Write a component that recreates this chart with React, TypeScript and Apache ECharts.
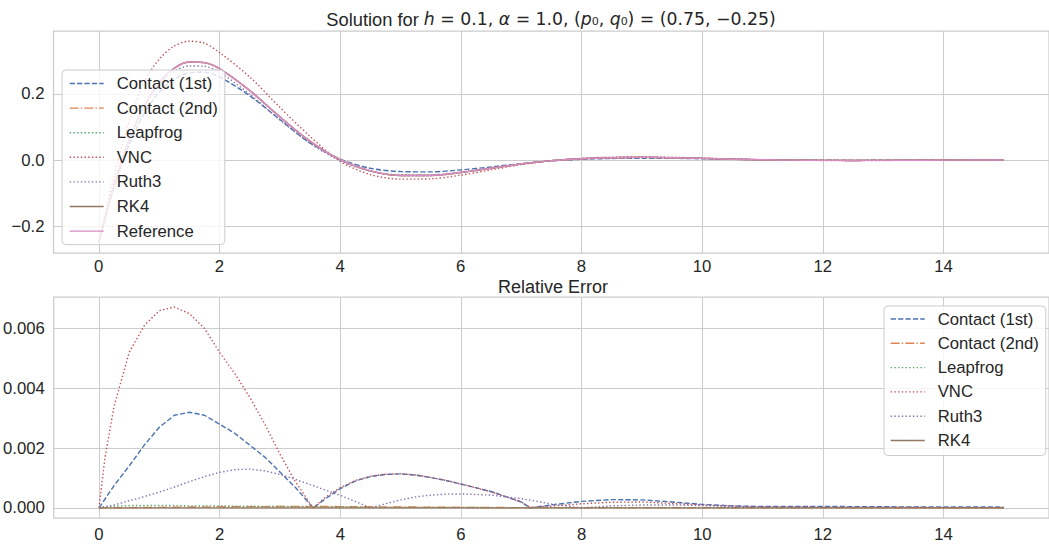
import React, { useEffect, useRef } from "react";
import * as echarts from "echarts";

// ---------- top panel: solution q(t) ----------
const tTop = [0, 0.25, 0.5, 0.75, 1, 1.25, 1.5, 1.75, 2, 2.5, 3, 3.5, 4, 4.5, 5, 5.5, 6, 6.5, 7, 7.5, 8, 8.5, 9, 9.5, 10, 10.5, 11, 11.5, 12, 12.5, 13, 13.5, 14, 14.5, 15];
const referenceTop = [-0.25, -0.079, 0.059, 0.163, 0.235, 0.278, 0.297, 0.295, 0.277, 0.211, 0.131, 0.057, 0.001, -0.033, -0.047, -0.047, -0.038, -0.025, -0.012, -0.002, 0.004, 0.007, 0.008, 0.007, 0.005, 0.0025, 0.0007, -0.0005, -0.0011, -0.0013, -0.0011, -0.0008, -0.0005, -0.0002, 0.0];
const contact1Top = [-0.25, -0.085, 0.045, 0.14, 0.205, 0.245, 0.264, 0.266, 0.252, 0.195, 0.123, 0.052, 0.003, -0.025, -0.035, -0.036, -0.03, -0.021, -0.011, -0.003, 0.002, 0.0045, 0.0055, 0.005, 0.0038, 0.0021, 0.0006, -0.0004, -0.0009, -0.001, -0.0009, -0.0007, -0.0004, -0.0002, 0.0];
const contact2Top = [-0.25, -0.079, 0.059, 0.163, 0.235, 0.278, 0.297, 0.295, 0.277, 0.211, 0.131, 0.057, 0.001, -0.033, -0.047, -0.047, -0.038, -0.025, -0.012, -0.002, 0.004, 0.007, 0.008, 0.007, 0.005, 0.0025, 0.0007, -0.0005, -0.0011, -0.0013, -0.0011, -0.0008, -0.0005, -0.0002, 0.0];
const leapfrogTop = [-0.25, -0.079, 0.059, 0.163, 0.235, 0.278, 0.297, 0.295, 0.277, 0.211, 0.131, 0.057, 0.001, -0.033, -0.047, -0.047, -0.038, -0.025, -0.012, -0.002, 0.004, 0.007, 0.008, 0.007, 0.005, 0.0025, 0.0007, -0.0005, -0.0011, -0.0013, -0.0011, -0.0008, -0.0005, -0.0002, 0.0];
const vncTop = [-0.25, -0.05, 0.115, 0.235, 0.305, 0.345, 0.36, 0.354, 0.326, 0.252, 0.16, 0.072, -0.004, -0.044, -0.058, -0.057, -0.046, -0.03, -0.014, -0.0025, 0.005, 0.0088, 0.0099, 0.0084, 0.0059, 0.0031, 0.0009, -0.0006, -0.0014, -0.0016, -0.0014, -0.001, -0.0006, -0.0003, 0.0];
const ruth3Top = [-0.25, -0.078, 0.06, 0.161, 0.229, 0.268, 0.285, 0.284, 0.266, 0.2, 0.122, 0.051, -0.002, -0.033, -0.045, -0.045, -0.037, -0.024, -0.012, -0.002, 0.004, 0.007, 0.008, 0.007, 0.005, 0.0025, 0.0007, -0.0005, -0.0011, -0.0013, -0.0011, -0.0008, -0.0005, -0.0002, 0.0];
const rk4Top = [-0.25, -0.079, 0.059, 0.163, 0.235, 0.278, 0.297, 0.295, 0.277, 0.211, 0.131, 0.057, 0.001, -0.033, -0.047, -0.047, -0.038, -0.025, -0.012, -0.002, 0.004, 0.007, 0.008, 0.007, 0.005, 0.0025, 0.0007, -0.0005, -0.0011, -0.0013, -0.0011, -0.0008, -0.0005, -0.0002, 0.0];

// ---------- bottom panel: relative error ----------
const tBot = [0, 0.1, 0.25, 0.5, 0.75, 1, 1.25, 1.5, 1.75, 2, 2.25, 2.5, 2.75, 3, 3.25, 3.5, 3.55, 3.75, 4, 4.25, 4.5, 4.75, 5, 5.25, 5.5, 5.75, 6, 6.5, 7, 7.15, 7.5, 8, 8.5, 9, 9.5, 10, 10.5, 11, 12, 13, 14, 15];
const contact1Err = [0, 0.0003, 0.00075, 0.0014, 0.0021, 0.0027, 0.0031, 0.0032, 0.0031, 0.0028, 0.0025, 0.0021, 0.0017, 0.0012, 0.0007, 0.00012, 0.0, 0.0003, 0.00065, 0.0009, 0.00105, 0.00112, 0.00114, 0.0011, 0.00102, 0.00092, 0.0008, 0.00055, 0.0002, 0.0, 0.0001, 0.00022, 0.00028, 0.00027, 0.0002, 0.00012, 0.00007, 0.00005, 0.00005, 0.00004, 0.00003, 0.00003];
const contact2Err = [0, 0.000002, 0.000005, 0.00001, 0.000015, 0.00002, 0.000025, 0.00003, 0.000035, 0.00004, 0.00004, 0.000045, 0.000045, 0.00005, 0.00005, 0.00005, 0.00005, 0.00005, 0.000045, 0.00004, 0.00004, 0.000035, 0.00003, 0.00003, 0.000025, 0.000025, 0.00002, 0.000015, 0.00001, 0.00001, 0.00001, 0.00001, 0.00001, 0.00001, 0.00001, 0.000005, 0.000005, 0.000005, 0.000005, 0.000005, 0.000005, 0.000005];
const leapfrogErr = [0, 0.00004, 0.00006, 0.00008, 0.00008, 0.00008, 0.00008, 0.00007, 0.00007, 0.00007, 0.00006, 0.00006, 0.00005, 0.00005, 0.00004, 0.00004, 0.00004, 0.00003, 0.00003, 0.00003, 0.00002, 0.00002, 0.00002, 0.00002, 0.00002, 0.00002, 0.00002, 0.00001, 0.00001, 0.00001, 0.00001, 0.00001, 0.00001, 0.00001, 0.00001, 0.00001, 0.00001, 0.00001, 0.00001, 0.00001, 0.00001, 0.00001];
const vncErr = [0, 0.0017, 0.0034, 0.0052, 0.0061, 0.0066, 0.00672, 0.0065, 0.006, 0.0052, 0.0045, 0.0037, 0.0028, 0.0018, 0.0009, 0.00015, 0.0, 0.00035, 0.00068, 0.00092, 0.00106, 0.00113, 0.00114, 0.0011, 0.00102, 0.00092, 0.0008, 0.00054, 0.0002, 0.00002, 0.00006, 0.00014, 0.00019, 0.0002, 0.00015, 0.0001, 0.00006, 0.00003, 0.00002, 0.00002, 0.00001, 0.00001];
const ruth3Err = [0, 0.00004, 0.0001, 0.00024, 0.00038, 0.00053, 0.0007, 0.00088, 0.00105, 0.00119, 0.00128, 0.0013, 0.00124, 0.00112, 0.00096, 0.00078, 0.00075, 0.0006, 0.00042, 0.00022, 0.0, 0.00014, 0.00027, 0.00037, 0.00043, 0.00046, 0.00047, 0.00043, 0.00031, 0.00026, 0.00013, 0.0, 0.00007, 0.0001, 0.0001, 0.00008, 0.00005, 0.00002, 0.00002, 0.00002, 0.00001, 0.00001];
const rk4Err = [0, 0.000001, 0.000001, 0.000001, 0.000001, 0.000001, 0.000001, 0.000001, 0.000001, 0.000001, 0.000001, 0.000001, 0.000001, 0.000001, 0.000001, 0.000001, 0.000001, 0.000001, 0.000001, 0.000001, 0.000001, 0.000001, 0.000001, 0.000001, 0.000001, 0.000001, 0.000001, 0.000001, 0.000001, 0.000001, 0.000001, 0.000001, 0.000001, 0.000001, 0.000001, 0.000001, 0.000001, 0.000001, 0.000001, 0.000001, 0.000001, 0.000001];

// ---------- ticks ----------
const xTicks = [0, 2, 4, 6, 8, 10, 12, 14];
const yTicksTop = [-0.2, 0, 0.2];
const yTicksBot = [0, 0.002, 0.004, 0.006];

const topNames = ["Contact (1st)", "Contact (2nd)", "Leapfrog", "VNC", "Ruth3", "RK4", "Reference"];
const botNames = ["Contact (1st)", "Contact (2nd)", "Leapfrog", "VNC", "Ruth3", "RK4"];

const COLORS: Record<string, string> = {
  "Contact (1st)": "#4c72b0",
  "Contact (2nd)": "#dd8452",
  Leapfrog: "#55a868",
  VNC: "#c44e52",
  Ruth3: "#8172b3",
  RK4: "#937860",
  Reference: "#da8bc3",
};
const LW = 1.4;
const DASHED = [5.2, 2.2];
const DASHDOT = [8.9, 2.2, 1.4, 2.2];
const DOTTED = [1.4, 2.3];
const STYLE: Record<string, any> = {
  "Contact (1st)": DASHED,
  "Contact (2nd)": DASHDOT,
  Leapfrog: DOTTED,
  VNC: DOTTED,
  Ruth3: DOTTED,
  RK4: "solid",
  Reference: "solid",
};

const TEXT = "#262626";
const FONT = "Liberation Sans";
const GRID = "#cccccc";
const FS = 16.7;

function zip(t: number[], v: number[]) {
  return t.map((x, i) => [x, v[i]]);
}

function lineSeries(name: string, t: number[], v: number[], idx: number, smooth: any) {
  return {
    type: "line",
    name,
    xAxisIndex: idx,
    yAxisIndex: idx,
    data: zip(t, v),
    symbol: "none",
    showSymbol: false,
    smooth,
    silent: true,
    lineStyle: { color: COLORS[name], width: LW, type: STYLE[name], cap: "butt" },
    itemStyle: { color: COLORS[name] },
  };
}

function legendCfg(names: string[], left: number, top: number, gap: number, padding: number[]) {
  return {
    data: names,
    orient: "vertical",
    left,
    top,
    itemWidth: 34,
    itemHeight: 14,
    itemGap: gap,
    padding,
    backgroundColor: "rgba(255,255,255,0.8)",
    borderColor: GRID,
    borderWidth: 1,
    borderRadius: 4,
    selectedMode: false,
    itemStyle: { opacity: 0 },
    lineStyle: { width: LW },
    textStyle: { fontSize: FS, fontFamily: FONT, color: TEXT, padding: [0, 0, 0, 8] },
    z: 10,
  };
}

function xAxisCfg(gridIndex: number, margin: number) {
  return {
    type: "value",
    gridIndex,
    min: -0.75,
    max: 15.75,
    axisLine: { show: false },
    axisTick: { show: false, customValues: xTicks },
    axisLabel: { customValues: xTicks, margin, fontSize: FS, fontFamily: FONT, color: TEXT },
    splitLine: { show: true, lineStyle: { color: GRID, width: 1 } },
  };
}

const option: any = {
  animation: false,
  backgroundColor: "#ffffff",
  graphic: [
    {
      type: "text",
      x: 551,
      y: 19,
      style: {
        text: "{t|Solution for }{m|h}{n| = 0.1, }{m|α}{n| = 1.0, (}{m|p}{n|₀, }{m|q}{n|₀) = (0.75, −0.25)}",
        align: "center",
        verticalAlign: "middle",
        fill: TEXT,
        fontSize: 18.3,
        rich: {
          t: { fontFamily: FONT, fontSize: 18.3, fill: TEXT },
          n: { fontFamily: "DejaVu Sans", fontSize: 17.3, fill: TEXT },
          m: { fontFamily: "DejaVu Sans", fontStyle: "italic", fontSize: 17.3, fill: TEXT },
        },
      },
    },
    {
      type: "text",
      x: 553,
      y: 286.5,
      style: {
        text: "Relative Error",
        align: "center",
        verticalAlign: "middle",
        fill: TEXT,
        fontSize: 18,
        fontFamily: FONT,
      },
    },
  ],
  grid: [
    { left: 53.5, top: 31, width: 1002, height: 222, show: true, borderColor: GRID, borderWidth: 1.25 },
    { left: 53.5, top: 297, width: 1006.5, height: 221, show: true, borderColor: GRID, borderWidth: 1.25 },
  ],
  xAxis: [xAxisCfg(0, 5), xAxisCfg(1, 8)],
  yAxis: [
    {
      type: "value",
      gridIndex: 0,
      min: -0.2818,
      max: 0.3909,
      axisLine: { show: false },
      axisTick: { show: false, customValues: yTicksTop },
      axisLabel: {
        customValues: yTicksTop,
        margin: 9,
        fontSize: FS,
        fontFamily: FONT,
        color: TEXT,
        formatter: (v: number) => v.toFixed(1).replace("-", "\u2212"),
      },
      splitLine: { show: true, lineStyle: { color: GRID, width: 1 } },
    },
    {
      type: "value",
      gridIndex: 1,
      min: -0.000336,
      max: 0.007056,
      axisLine: { show: false },
      axisTick: { show: false, customValues: yTicksBot },
      axisLabel: {
        customValues: yTicksBot,
        margin: 9,
        fontSize: FS,
        fontFamily: FONT,
        color: TEXT,
        formatter: (v: number) => v.toFixed(3),
      },
      splitLine: { show: true, lineStyle: { color: GRID, width: 1 } },
    },
  ],
  legend: [
    legendCfg(topNames, 62, 70, 7.6, [5, 7, 5, 7]),
    legendCfg(botNames, 884, 306, 7.3, [4.5, 7, 6.5, 6]),
  ],
  series: [
    lineSeries("Contact (1st)", tTop, contact1Top, 0, 0.3),
    lineSeries("Contact (2nd)", tTop, contact2Top, 0, 0.3),
    lineSeries("Leapfrog", tTop, leapfrogTop, 0, 0.3),
    lineSeries("VNC", tTop, vncTop, 0, 0.3),
    lineSeries("Ruth3", tTop, ruth3Top, 0, 0.3),
    lineSeries("RK4", tTop, rk4Top, 0, 0.3),
    lineSeries("Reference", tTop, referenceTop, 0, 0.3),
    lineSeries("Contact (1st)", tBot, contact1Err, 1, false),
    lineSeries("Contact (2nd)", tBot, contact2Err, 1, false),
    lineSeries("Leapfrog", tBot, leapfrogErr, 1, false),
    lineSeries("VNC", tBot, vncErr, 1, false),
    lineSeries("Ruth3", tBot, ruth3Err, 1, false),
    lineSeries("RK4", tBot, rk4Err, 1, false),
  ],
};

export default function App() {
  const ref = useRef<HTMLDivElement>(null);
  useEffect(() => {
    if (!ref.current) return;
    const chart = echarts.init(ref.current, null, { renderer: "svg" });
    chart.setOption(option);
    return () => chart.dispose();
  }, []);
  return (
    <div
      ref={ref}
      style={{ position: "fixed", left: 0, top: 0, width: 1049, height: 546, background: "#ffffff" }}
    />
  );
}
